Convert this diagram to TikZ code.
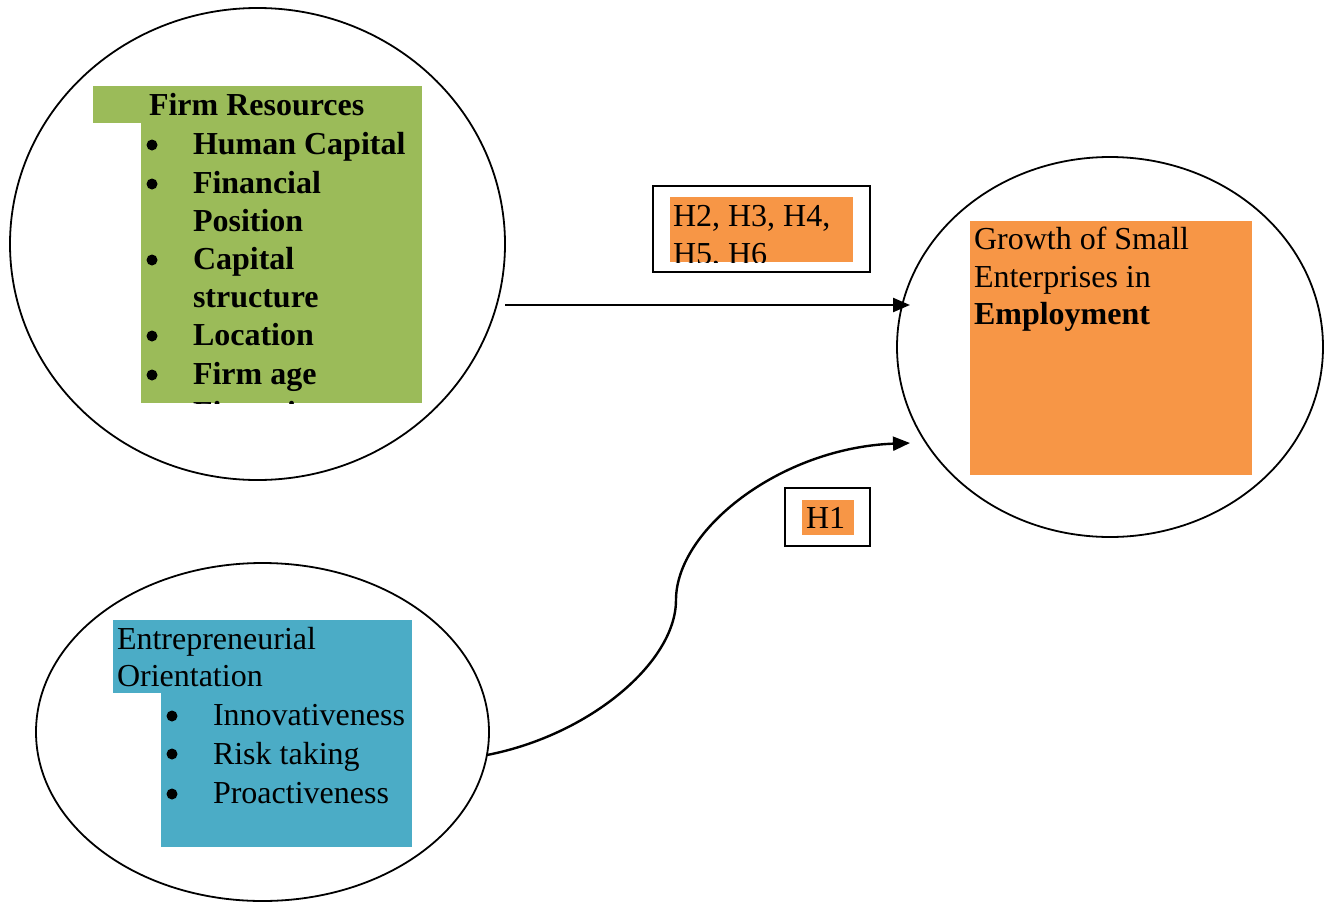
\documentclass[tikz,border=0pt]{standalone}
\usepackage{fontspec}
\setmainfont{Liberation Serif}
\usetikzlibrary{arrows.meta,shapes.geometric}
\definecolor{grn}{HTML}{9BBB59}
\definecolor{org}{HTML}{F79646}
\definecolor{blu}{HTML}{4BACC6}
\begin{document}
\begin{tikzpicture}[x=1pt,y=-1pt,
  txt/.style={anchor=base west,inner sep=0pt,outer sep=0pt,font=\fontsize{32}{38}\selectfont},
  btxt/.style={anchor=base west,inner sep=0pt,outer sep=0pt,font=\fontsize{32}{38}\selectfont\bfseries},
  bul/.style={circle,fill=black,inner sep=0pt,minimum size=11pt},
  oval/.style={ellipse,draw,line width=1.8pt,inner sep=0pt,outer sep=0pt},
  conn/.style={line width=2.4pt,-{Triangle[length=17pt,width=14pt]}},
  hbox/.style={draw,line width=1.8pt,inner sep=0pt}
]
\useasboundingbox (0,0) rectangle (1325,902);

% ellipses
\node[oval,minimum width=495pt,minimum height=472pt] (fr) at (257.5,244) {};
\node[oval,minimum width=426pt,minimum height=380pt] (gr) at (1110,347) {};
\node[oval,minimum width=453pt,minimum height=338pt] (eo) at (262.5,732) {};

% Firm Resources block
\fill[grn] (93,86) rectangle (422,123);
\fill[grn] (141,123) rectangle (422,403);
\begin{scope}
\clip (93,86) -- (422,86) -- (422,403) -- (141,403) -- (141,123) -- (93,123) -- cycle;
\node[btxt] (fr0) at (149,115) {Firm Resources};
\node[bul] (fb1) at (152,145) {};
\node[btxt] (fr1) at (193,154) {Human Capital};
\node[bul] (fb2) at (152,184) {};
\node[btxt] (fr2) at (193,193) {Financial};
\node[btxt] (fr3) at (193,231) {Position};
\node[bul] (fb3) at (152,260) {};
\node[btxt] (fr4) at (193,269) {Capital};
\node[btxt] (fr5) at (193,307) {structure};
\node[bul] (fb4) at (152,336) {};
\node[btxt] (fr6) at (193,345) {Location};
\node[bul] (fb5) at (152,375) {};
\node[btxt] (fr7) at (193,384) {Firm age};
\node[btxt] (fr8) at (193,423) {Financing};
\end{scope}

% Entrepreneurial Orientation block
\fill[blu] (113,620) rectangle (412,693);
\fill[blu] (161,693) rectangle (412,847);
\node[txt] (eo0) at (117,649) {Entrepreneurial};
\node[txt] (eo1) at (117,686) {Orientation};
\node[bul] (eb1) at (172,716) {};
\node[txt] (eo2) at (213,725) {Innovativeness};
\node[bul] (eb2) at (172,754) {};
\node[txt] (eo3) at (213,764) {Risk taking};
\node[bul] (eb3) at (172,794) {};
\node[txt] (eo4) at (213,803) {Proactiveness};

% Growth block
\fill[org] (970,221) rectangle (1252,475);
\node[txt] (g0) at (974,249) {Growth of Small};
\node[txt] (g1) at (974,287) {Enterprises in};
\node[btxt] (g2) at (974,324) {Employment};

% H2-H6 label
\node[hbox,minimum width=217pt,minimum height=86pt] (hl) at (761.5,229) {};
\fill[org] (670,197) rectangle (853,262);
\begin{scope}
\clip (670,197) rectangle (853,262);
\node[txt] (h0) at (673,226) {H2, H3, H4,};
\node[txt] (h1) at (673,264) {H5, H6};
\end{scope}

% H1 label
\node[hbox,minimum width=85pt,minimum height=58pt] (h1box) at (827.5,517) {};
\fill[org] (802,500) rectangle (854,535);
\node[txt] (h1t) at (806,528) {H1};

% connectors
\coordinate (a1s) at (505,305);
\coordinate (a1e) at (910,305);
\coordinate (a2s) at (487,755);
\coordinate (a2m) at (676,600);
\coordinate (a2e) at (910,443);
\draw[conn] (a1s) -- (a1e);
\draw[conn] (a2s) .. controls (590,735) and (676,662) .. (a2m)
  .. controls (676,530) and (780,448) .. (a2e);
\end{tikzpicture}
\end{document}
